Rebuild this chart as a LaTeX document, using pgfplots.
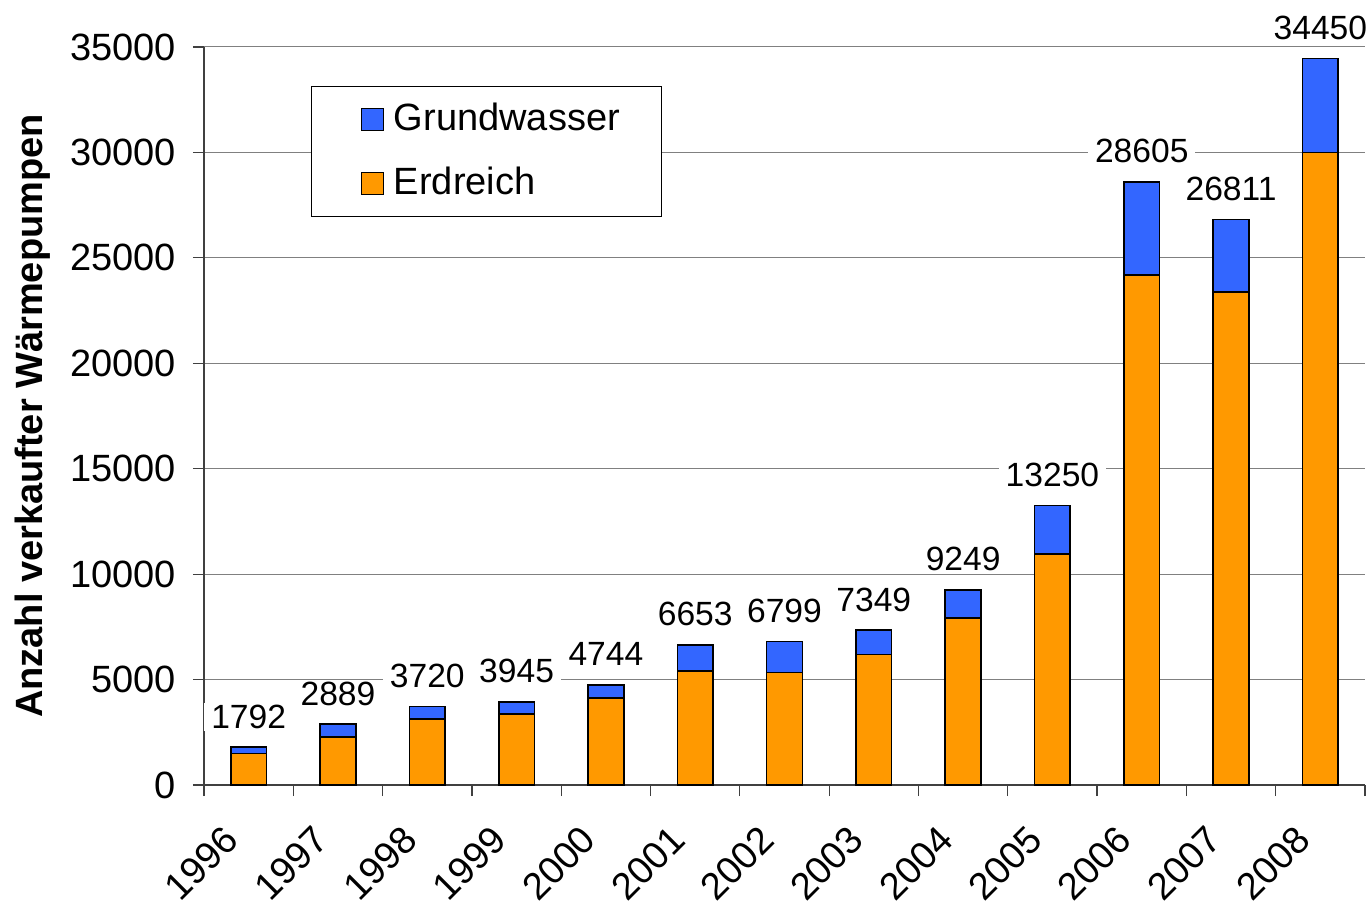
\documentclass[border=0pt]{standalone}
\usepackage{pgfplots}
\pgfplotsset{compat=1.18}
\usepackage{fontspec}
\setmainfont{Liberation Sans}
\usetikzlibrary{calc}
\definecolor{gw}{HTML}{3366FF}
\definecolor{er}{HTML}{FF9900}
\newcommand{\fs}{\fontsize{19}{22}\selectfont}
\newcommand{\fl}{\fontsize{16.8}{20}\selectfont}
\begin{document}
\fs
\begin{tikzpicture}
\begin{axis}[
  scale only axis,
  width=580.5pt, height=369pt,
  ybar stacked, bar width=0.4,
  xmin=-0.5, xmax=12.5,
  ymin=0, ymax=35000,
  ytick={0,5000,...,35000},
  scaled y ticks=false,
  xtick={0,...,12},
  xticklabels={1996,1997,1998,1999,2000,2001,2002,2003,2004,2005,2006,2007,2008},
  minor xtick={-0.5,0.5,...,12.5},
  major x tick style={draw=none},
  minor tick length=5.5pt, major tick length=5.5pt,
  tick align=outside,
  axis x line*=bottom, axis y line*=left,
  axis line style={black!75, line width=0.6pt},
  every tick/.style={black!75, line width=0.6pt},
  ymajorgrids,
  grid style={gray, line width=0.5pt},
  /pgf/number format/1000 sep={},
  /pgf/number format/assume math mode=true,
  tick label style={font=\fs},
  yticklabel style={xshift=-2pt},
  xticklabel style={xshift=-4pt, yshift=-14pt, rotate=45, anchor=east},
  ylabel={\bfseries Anzahl verkaufter Wärmepumpen},
  every axis y label/.style={at={(axis description cs:-0.1473,0.5)}, rotate=90, anchor=center, font=\fs},
  clip=false,
  reverse legend,
  legend style={at={(0.092,0.947)}, anchor=north west, draw=black, line width=0.5pt,
    font=\fs, inner xsep=19pt, inner ysep=6pt, row sep=11.5pt},
  legend cell align=left,
  legend image code/.code={\path (0pt,0pt) (19.5pt,0pt); \draw[#1, line width=0.6pt] (5.5pt,-5.5pt) rectangle (16.5pt,5.5pt);},
]
\addplot[fill=er, draw=black, line width=0.8pt] coordinates {
(0,1500) (1,2290) (2,3120) (3,3360) (4,4120) (5,5410) (6,5330) (7,6180) (8,7910) (9,10950) (10,24180) (11,23390) (12,30000)};
\addlegendentry{Erdreich}
\addplot[fill=gw, draw=black, line width=0.8pt] coordinates {
(0,292) (1,599) (2,600) (3,585) (4,624) (5,1243) (6,1469) (7,1169) (8,1339) (9,2300) (10,4425) (11,3421) (12,4450)};
\addlegendentry{Grundwasser}
\end{axis}
\begin{axis}[
  scale only axis,
  width=580.5pt, height=369pt,
  xmin=-0.5, xmax=12.5,
  ymin=0, ymax=35000,
  hide axis, clip=false,
]
\addplot[only marks, mark=*, mark size=0pt, mark options={draw=none, fill=none},
  point meta=explicit symbolic,
  nodes near coords,
  every node near coord/.style={anchor=base, yshift=9.5pt, fill=white, inner xsep=3.5pt, inner ysep=1pt, text=black, draw=none, font=\fl}]
  coordinates {
(0,1792) [1792] (1,2889) [2889] (2,3720) [3720] (3,3945) [3945] (4,4744) [4744] (5,6653) [6653] (6,6799) [6799] (7,7349) [7349] (8,9249) [9249] (9,13250) [13250] (10,28605) [28605] (11,26811) [26811] (12,34450) [34450]};
\end{axis}
\pgfresetboundingbox
\path[use as bounding box] ($(current axis.south west)+(-102pt,-59.5pt)$) rectangle ($(current axis.north east)+(2pt,23.5pt)$);
\end{tikzpicture}
\end{document}
